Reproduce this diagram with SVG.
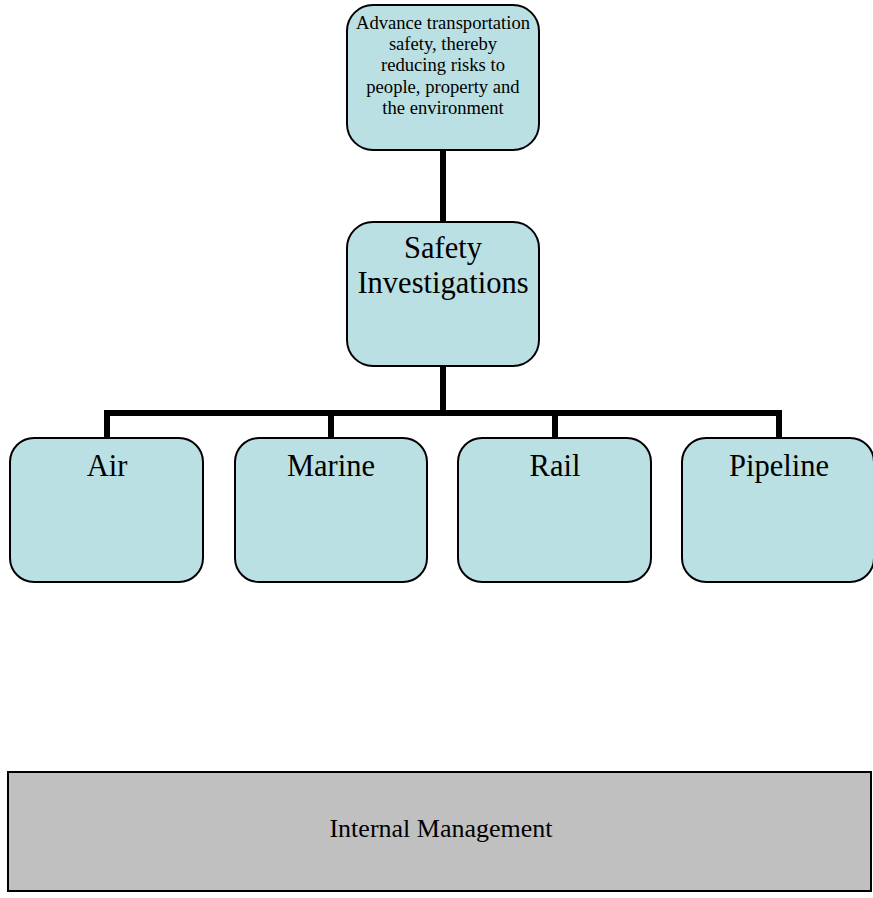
<svg xmlns="http://www.w3.org/2000/svg" width="873" height="898" viewBox="0 0 873 898">
<style>
.node{fill:#bbe0e3;stroke:#000;stroke-width:2}
.t{font-family:"Liberation Serif","Times New Roman",serif;fill:#000;text-anchor:middle}
.conn{stroke:#000;stroke-width:6;fill:none}
</style>
<rect width="873" height="898" fill="#fff"/>
<g id="connectors">
<line class="conn" x1="443" y1="150" x2="443" y2="222"/>
<line class="conn" x1="443" y1="366" x2="443" y2="413"/>
<polyline class="conn" points="107,438 107,413 779,413 779,438"/>
<line class="conn" x1="331" y1="413" x2="331" y2="438"/>
<line class="conn" x1="555" y1="413" x2="555" y2="438"/>
</g>
<g id="goal">
<rect class="node" x="347" y="5" width="192" height="145" rx="26"/>
<text class="t" font-size="18.6" x="443"><tspan x="443" y="29">Advance transportation</tspan><tspan x="443" y="50">safety, thereby</tspan><tspan x="443" y="71">reducing risks to</tspan><tspan x="443" y="93">people, property and</tspan><tspan x="443" y="114">the environment</tspan></text>
</g>
<g id="safety">
<rect class="node" x="347" y="222" width="192" height="144" rx="26"/>
<text class="t" font-size="30.5" x="443"><tspan x="443" y="258">Safety</tspan><tspan x="443" y="293">Investigations</tspan></text>
</g>
<g id="air">
<rect class="node" x="10" y="438" width="193" height="144" rx="24"/>
<text class="t" font-size="30.5" x="107" y="476">Air</text>
</g>
<g id="marine">
<rect class="node" x="235" y="438" width="192" height="144" rx="24"/>
<text class="t" font-size="30.5" x="331" y="476">Marine</text>
</g>
<g id="rail">
<rect class="node" x="458" y="438" width="193" height="144" rx="24"/>
<text class="t" font-size="30.5" x="555" y="476">Rail</text>
</g>
<g id="pipeline">
<rect class="node" x="682" y="438" width="192" height="144" rx="24"/>
<text class="t" font-size="30.5" x="779" y="476">Pipeline</text>
</g>
<g id="internal">
<rect x="8" y="772" width="863" height="119" fill="#c0c0c0" stroke="#000" stroke-width="2"/>
<text class="t" font-size="26" x="441" y="837">Internal Management</text>
</g>
</svg>
